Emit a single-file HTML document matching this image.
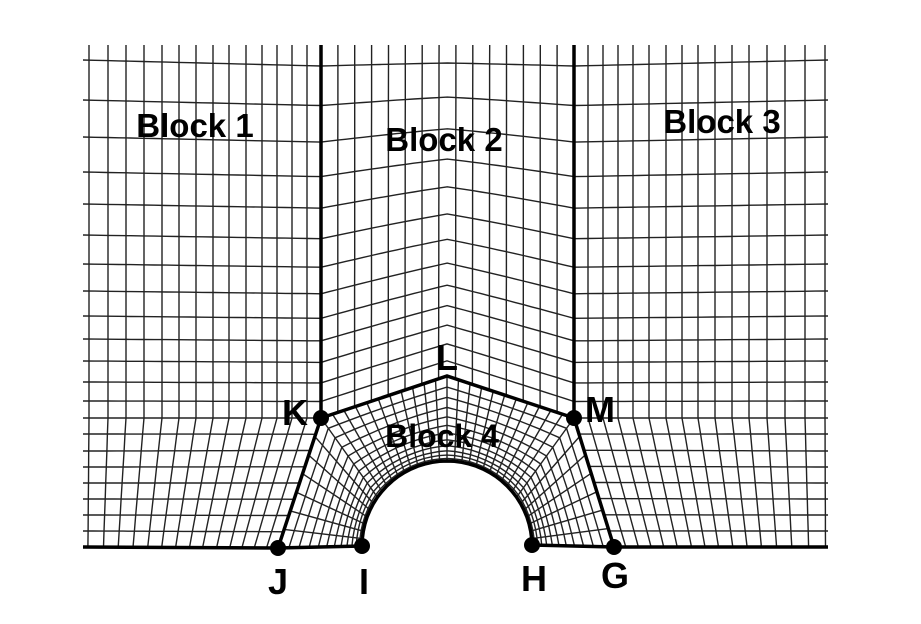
<!DOCTYPE html>
<html><head><meta charset="utf-8"><style>
html,body{margin:0;padding:0;background:#fff;}
svg{display:block;}
text{font-family:"Liberation Sans",Arial,sans-serif;font-weight:bold;fill:#000;}
</style></head><body>
<svg id="c" width="921" height="624" viewBox="0 0 921 624">
<g id="grid" fill="none" stroke="#222" stroke-width="1.4"></g>
<g id="bounds" fill="none" stroke="#000" stroke-width="3.5"></g>
<g id="dots"></g>
<text x="195" y="137" font-size="33" text-anchor="middle">Block 1</text>
<text x="444" y="151" font-size="33" text-anchor="middle">Block 2</text>
<text x="722" y="133" font-size="33" text-anchor="middle">Block 3</text>
<text x="442" y="447" font-size="32" text-anchor="middle">Block 4</text>
<text x="295" y="425" font-size="36" text-anchor="middle">K</text>
<text x="447" y="370" font-size="36" text-anchor="middle">L</text>
<text x="600" y="422" font-size="36" text-anchor="middle">M</text>
<text x="278" y="594" font-size="36" text-anchor="middle">J</text>
<text x="364" y="594" font-size="36" text-anchor="middle">I</text>
<text x="534" y="591" font-size="36" text-anchor="middle">H</text>
<text x="615" y="588" font-size="36" text-anchor="middle">G</text>
</svg>
<script>
const NS='http://www.w3.org/2000/svg';
const ptK=[321,418], ptL=[447,376], ptM=[574,418], ptJ=[278,548], ptI=[362,546], ptH=[532,545], ptG=[614,547];
const topY=45, botY=547, leftX=83, rightX=828;
const rowsLeft=[60,100,137,172,204,235,264,291,316,339,361,382,401,418,434,451,467,483,499,515,531];
const cols1=[89,108,126,144,162,179,196,213,229,246,262,277,292,307];
const cols3=[588,603,618,633,649,666,682,698,715,732,749,767,785,805,825];
const cols2N=15;
const arcSegs=[7,11,11,7];
const ringFrac=[0.03,0.07,0.12,0.18,0.25,0.33,0.42,0.52,0.63,0.75,0.87];
const gridG=document.getElementById('grid');
function poly(pts,g,name){const p=document.createElementNS(NS,'polyline');
p.setAttribute('points',pts.map(q=>q[0].toFixed(1)+','+q[1].toFixed(1)).join(' '));


g.appendChild(p);}
function lerp(a,b,t){return [a[0]+(b[0]-a[0])*t,a[1]+(b[1]-a[1])*t];}
const nK=13;
function sideRow(i){ if(i<nK) return rowsLeft[i]+6*(1-i/nK); return null;}
function sideBlock(outerX,bx,corner,foot,cols,name){
  const N=rowsLeft.length;
  const vs=rowsLeft.map(y=>(y-topY)/(botY-topY)); vs.push(1);
  function inner(i){ if(i<nK) return [bx,sideRow(i)]; return lerp(corner,foot,(i-nK)/(N-nK)); }
  function outer(i){ return [outerX, i<N?rowsLeft[i]:botY]; }
  function P(u,i){const v=vs[i];const L=outer(i),R=inner(i);
    const Tx=outerX+(bx-outerX)*u, Bx=outerX+(foot[0]-outerX)*u;
    const x=(1-u)*L[0]+u*R[0]+(1-v)*Tx+v*Bx-((1-u)*(1-v)*outerX+u*(1-v)*bx+(1-u)*v*outerX+u*v*foot[0]);
    const y=(1-u)*L[1]+u*R[1];
    return [x,y];}
  for(let i=0;i<N;i++){const pts=[];for(let k=0;k<=20;k++)pts.push(P(k/20,i));poly(pts,gridG,name+'-row');}
  cols.forEach(cx=>{const u=(cx-outerX)/(bx-outerX);const pts=[[cx,topY]];for(let i=0;i<=N;i++)pts.push(P(u,i));poly(pts,gridG,name+'-col');});
}
sideBlock(leftX,321,ptK,ptJ,cols1,'block1');
sideBlock(rightX,574,ptM,ptG,cols3,'block3');
(function(){
  const vs=[],ys=[];for(let i=0;i<nK;i++){ys.push(sideRow(i));vs.push((sideRow(i)-topY)/(418-topY));}
  function bot(u){return u<0.5?lerp(ptK,ptL,u*2):lerp(ptL,ptM,(u-0.5)*2);}
  function P(u,i){const v=vs[i],y0=ys[i];const B=bot(u);const T=[321+253*u,topY];
    const Lp=[321,y0],Rp=[574,y0];
    const x=(1-u)*Lp[0]+u*Rp[0]+(1-v)*T[0]+v*B[0]-((1-u)*(1-v)*321+u*(1-v)*574+(1-u)*v*321+u*v*574);
    const y=(1-u)*Lp[1]+u*Rp[1]+(1-v)*T[1]+v*B[1]-((1-u)*(1-v)*topY+u*(1-v)*topY+(1-u)*v*418+u*v*418) - 6*Math.sin(Math.PI*u)*(1-v)*v*2;
    return [x,y];}
  for(let i=0;i<nK;i++){const pts=[];for(let k=0;k<=30;k++)pts.push(P(k/30,i));poly(pts,gridG,'block2-row');}
  for(let j=1;j<cols2N;j++){const u=j/cols2N;const pts=[[321+253*u,topY]];for(let i=0;i<nK;i++)pts.push(P(u,i));pts.push(bot(u));poly(pts,gridG,'block2-col');}
})();
(function(){
  const cx=447,cy=546,r=85;const outerPts=[ptJ,ptK,ptL,ptM,ptG];
  const total=arcSegs.reduce((a,b)=>a+b,0);const spokes=[];
  for(let s=0;s<4;s++){for(let m=0;m<arcSegs[s];m++){spokes.push(lerp(outerPts[s],outerPts[s+1],m/arcSegs[s]));}}
  spokes.push(ptG);
  const inner=[];for(let i=0;i<=total;i++){const th=Math.PI-Math.PI*i/total;inner.push([cx+r*Math.cos(th),cy-r*Math.sin(th)]);}
  for(let i=1;i<total;i++){poly([inner[i],spokes[i]],gridG,'block4-spoke');}
  ringFrac.forEach(f=>{const pts=[];for(let i=0;i<=total;i++)pts.push(lerp(inner[i],spokes[i],f));poly(pts,gridG,'block4-ring');});
  const b=document.getElementById('bounds');
  poly([[leftX,botY],ptJ,ptI],b,'bottom-left-wall');
  poly([ptH,ptG,[rightX,botY]],b,'bottom-right-wall');
  poly([[321,topY],ptK,ptJ],b,'block1-boundary');
  poly([[574,topY],ptM,ptG],b,'block3-boundary');
  poly([ptK,ptL,ptM],b,'block2-bottom-boundary');
  poly(inner,b,'cylinder-arc');
})();
const dG=document.getElementById('dots');
[ptK,ptM,ptJ,ptI,ptH,ptG].forEach(p=>{const c=document.createElementNS(NS,'circle');c.setAttribute('cx',p[0]);c.setAttribute('cy',p[1]);c.setAttribute('r',8);


dG.appendChild(c);});
</script>
</body></html>
